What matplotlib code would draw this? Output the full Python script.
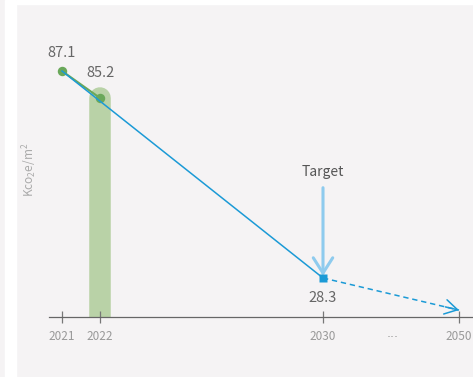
import numpy as np
import matplotlib.pyplot as plt
from matplotlib.patches import Rectangle

plt.rcParams['font.family'] = ['Noto Sans CJK SC', 'DejaVu Sans']
plt.rcParams['mathtext.default'] = 'regular'

# data
years = [2021, 2022, 2030]
values = [87.1, 85.2, 28.3]
year_ticks = [2021, 2022, 2030, 2050]
end_year = 2050
end_value = 5.0
target_year = 2030
target_value = 28.3

# broken (schematic) axes: piecewise linear scales
x_knots_year = [2019, 2021, 2022, 2030, 2050, 2070]
x_knots_pos = [-14, 62, 100, 323, 459, 595]
y_knots_val = [0, 28.3, 85.2, 87.1, 100]
y_knots_pos = [0, 39, 219, 246, 313]


def xf(v):
    return np.interp(v, x_knots_year, x_knots_pos)


def xi(v):
    return np.interp(v, x_knots_pos, x_knots_year)


def yf(v):
    return np.interp(v, y_knots_val, y_knots_pos)


def yi(v):
    return np.interp(v, y_knots_pos, y_knots_val)


W, H = 473, 377
fig = plt.figure(figsize=(W / 100, H / 100), dpi=100, facecolor='#f5f3f4')
fig.add_artist(Rectangle((5 / W, 0), 11 / W, 1, transform=fig.transFigure,
                         color='white', zorder=-5))
fig.add_artist(Rectangle((16 / W, 1 - 4 / H), 1, 4 / H, transform=fig.transFigure,
                         color='white', zorder=-5))

ax = fig.add_axes([49 / W, 60 / H, (W - 49) / W, 313 / H])
ax.set_facecolor('none')
ax.set_xscale('function', functions=(xf, xi))
ax.set_yscale('function', functions=(yf, yi))
ax.set_xlim(xi(49), xi(473))
ax.set_ylim(0, 100)

green_light = '#b9d2a7'
green = '#6aa85a'
blue = '#1b9ad6'
blue_light = '#8ecbee'

# green bar for 2022 with rounded top (bottom cap clipped by the axes)
ax.plot([2022, 2022], [0, values[1]], color=green_light, lw=15.5,
        solid_capstyle='round', zorder=1)

# green segment and points
ax.plot(years[:2], values[:2], color=green, lw=1.5, zorder=2)
ax.plot(years[:2], values[:2], 'o', color=green, ms=6.8, mec='none', zorder=3)

# blue line 2021 -> 2030
ax.plot([years[0], years[2]], [values[0], values[2]], color=blue, lw=1.1, zorder=4)

# dashed projection to 2050
ax.plot([target_year, end_year], [target_value, end_value], color=blue, lw=1.1,
        ls=(0, (3.5, 2.5)), zorder=4)
ax.annotate('', xy=(end_year, end_value), xytext=(-9.8, 2.3),
            textcoords='offset points',
            arrowprops=dict(arrowstyle='->,head_length=0.6,head_width=0.35',
                            color=blue, lw=1.1, shrinkA=0, shrinkB=0,
                            mutation_scale=15), zorder=5)

# target marker and arrow
ax.plot([target_year], [target_value], 's', color=blue, ms=6, mec='none', zorder=6)
ax.annotate('', xy=(target_year, target_value), xytext=(0, 65),
            xycoords='data', textcoords='offset points',
            arrowprops=dict(arrowstyle='->,head_length=0.55,head_width=0.35',
                            color=blue_light, lw=2.2, shrinkA=0, shrinkB=1.5,
                            mutation_scale=20), zorder=5)
ax.annotate('Target', xy=(target_year, target_value), xytext=(0, 76),
            textcoords='offset points', ha='center', va='center',
            fontsize=10, color='#555555')

# value labels
label_offsets = [(0, 13), (0, 18), (0, -14.5)]
for x, v, off in zip(years, values, label_offsets):
    ax.annotate(f'{v}', xy=(x, v), xytext=off, textcoords='offset points',
                ha='center', va='center', fontsize=10.5, color='#666666')

# axes styling
for s in ['left', 'right', 'top']:
    ax.spines[s].set_visible(False)
ax.spines['bottom'].set_color('#666666')
ax.spines['bottom'].set_linewidth(0.9)
ax.set_xticks(year_ticks)
ax.set_xticklabels([str(y) for y in year_ticks])
ax.xaxis.set_minor_locator(plt.NullLocator())
ax.set_yticks([])
ax.yaxis.set_minor_locator(plt.NullLocator())
ax.tick_params(axis='x', direction='inout', length=8.5, width=0.9,
               color='#777777', labelcolor='#999999', labelsize=8.5, pad=5)

ax.annotate('\u00b7\u00b7\u00b7', xy=(2040.2, 0), xytext=(0, -15),
            textcoords='offset points', ha='center', va='center', fontsize=9,
            family='DejaVu Sans', color='#999999', annotation_clip=False)
fig.text(30 / W, 1 - 170 / H, r'Kco$_2$e/m$^2$', rotation=90, ha='center',
         va='center', fontsize=8.5, color='#aaaaaa')

fig.savefig('out.png', dpi=100, facecolor=fig.get_facecolor())
